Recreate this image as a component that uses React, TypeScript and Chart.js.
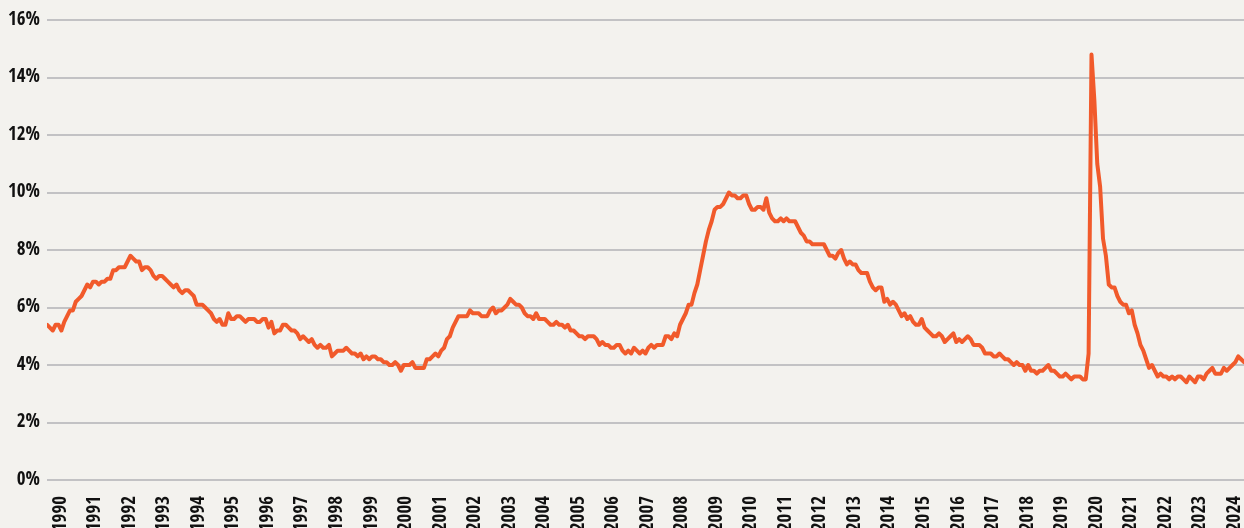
import React, { useEffect, useRef } from "react";
import { Chart, registerables } from "chart.js";

Chart.register(...registerables);

const START_YEAR = 1990;
const yearLabels: string[] = [
  "1990","1991","1992","1993","1994","1995","1996","1997","1998","1999",
  "2000","2001","2002","2003","2004","2005","2006","2007","2008","2009",
  "2010","2011","2012","2013","2014","2015","2016","2017","2018","2019",
  "2020","2021","2022","2023","2024",
];

// Monthly unemployment rate (%), Jan 1990 – Sep 2024
const rate1990s: number[] = [
  5.4,5.3,5.2,5.4,5.4,5.2,5.5,5.7,5.9,5.9,6.2,6.3,
  6.4,6.6,6.8,6.7,6.9,6.9,6.8,6.9,6.9,7.0,7.0,7.3,
  7.3,7.4,7.4,7.4,7.6,7.8,7.7,7.6,7.6,7.3,7.4,7.4,
  7.3,7.1,7.0,7.1,7.1,7.0,6.9,6.8,6.7,6.8,6.6,6.5,
  6.6,6.6,6.5,6.4,6.1,6.1,6.1,6.0,5.9,5.8,5.6,5.5,
  5.6,5.4,5.4,5.8,5.6,5.6,5.7,5.7,5.6,5.5,5.6,5.6,
  5.6,5.5,5.5,5.6,5.6,5.3,5.5,5.1,5.2,5.2,5.4,5.4,
  5.3,5.2,5.2,5.1,4.9,5.0,4.9,4.8,4.9,4.7,4.6,4.7,
  4.6,4.6,4.7,4.3,4.4,4.5,4.5,4.5,4.6,4.5,4.4,4.4,
  4.3,4.4,4.2,4.3,4.2,4.3,4.3,4.2,4.2,4.1,4.1,4.0,
];
const rate2000s: number[] = [
  4.0,4.1,4.0,3.8,4.0,4.0,4.0,4.1,3.9,3.9,3.9,3.9,
  4.2,4.2,4.3,4.4,4.3,4.5,4.6,4.9,5.0,5.3,5.5,5.7,
  5.7,5.7,5.7,5.9,5.8,5.8,5.8,5.7,5.7,5.7,5.9,6.0,
  5.8,5.9,5.9,6.0,6.1,6.3,6.2,6.1,6.1,6.0,5.8,5.7,
  5.7,5.6,5.8,5.6,5.6,5.6,5.5,5.4,5.4,5.5,5.4,5.4,
  5.3,5.4,5.2,5.2,5.1,5.0,5.0,4.9,5.0,5.0,5.0,4.9,
  4.7,4.8,4.7,4.7,4.6,4.6,4.7,4.7,4.5,4.4,4.5,4.4,
  4.6,4.5,4.4,4.5,4.4,4.6,4.7,4.6,4.7,4.7,4.7,5.0,
  5.0,4.9,5.1,5.0,5.4,5.6,5.8,6.1,6.1,6.5,6.8,7.3,
  7.8,8.3,8.7,9.0,9.4,9.5,9.5,9.6,9.8,10.0,9.9,9.9,
];
const rate2010s: number[] = [
  9.8,9.8,9.9,9.9,9.6,9.4,9.4,9.5,9.5,9.4,9.8,9.3,
  9.1,9.0,9.0,9.1,9.0,9.1,9.0,9.0,9.0,8.8,8.6,8.5,
  8.3,8.3,8.2,8.2,8.2,8.2,8.2,8.0,7.8,7.8,7.7,7.9,
  8.0,7.7,7.5,7.6,7.5,7.5,7.3,7.2,7.2,7.2,6.9,6.7,
  6.6,6.7,6.7,6.2,6.3,6.1,6.2,6.1,5.9,5.7,5.8,5.6,
  5.7,5.5,5.4,5.4,5.6,5.3,5.2,5.1,5.0,5.0,5.1,5.0,
  4.8,4.9,5.0,5.1,4.8,4.9,4.8,4.9,5.0,4.9,4.7,4.7,
  4.7,4.6,4.4,4.4,4.4,4.3,4.3,4.4,4.3,4.2,4.2,4.1,
  4.0,4.1,4.0,4.0,3.8,4.0,3.8,3.8,3.7,3.8,3.8,3.9,
  4.0,3.8,3.8,3.7,3.6,3.6,3.7,3.6,3.5,3.6,3.6,3.6,
];
const rate2020s: number[] = [
  3.5,3.5,4.4,14.8,13.2,11.0,10.2,8.4,7.8,6.8,6.7,6.7,
  6.4,6.2,6.1,6.1,5.8,5.9,5.4,5.1,4.7,4.5,4.2,3.9,
  4.0,3.8,3.6,3.7,3.6,3.6,3.5,3.6,3.5,3.6,3.6,3.5,
  3.4,3.6,3.5,3.4,3.6,3.6,3.5,3.7,3.8,3.9,3.7,3.7,
  3.7,3.9,3.8,3.9,4.0,4.1,4.3,4.2,4.1,
];
const yTicks: number[] = [0, 2, 4, 6, 8, 10, 12, 14, 16];

const rates: number[] = [...rate1990s, ...rate2000s, ...rate2010s, ...rate2020s];

const BG = "#f3f2ee";
const FONT = "'Open Sans Condensed', 'DejaVu Sans Condensed', sans-serif";
const LABEL_MONTH_OFFSET = 4.8;

export default function App() {
  const canvasRef = useRef<HTMLCanvasElement | null>(null);

  useEffect(() => {
    document.body.style.margin = "0";
    document.body.style.background = BG;
    const canvas = canvasRef.current;
    if (!canvas) return;
    const points = rates.map((v, i) => ({ x: i, y: v }));
    const chart = new Chart(canvas, {
      type: "line",
      data: {
        datasets: [
          {
            data: points,
            borderColor: "#f15a2b",
            borderWidth: 4,
            pointRadius: 0,
            tension: 0,
            fill: false,
            borderJoinStyle: "round",
            borderCapStyle: "round",
          },
        ],
      },
      options: {
        animation: false,
        responsive: false,
        maintainAspectRatio: false,
        layout: { padding: { top: 20, right: 0, left: 0, bottom: 0 } },
        plugins: { legend: { display: false }, tooltip: { enabled: false } },
        scales: {
          x: {
            type: "linear",
            min: 0,
            max: rates.length - 1,
            grid: { display: false, drawTicks: false },
            border: { display: false },
            afterBuildTicks: (scale: any) => {
              scale.ticks = yearLabels.map((_, i) => ({ value: i * 12 + LABEL_MONTH_OFFSET }));
            },
            afterFit: (scale: any) => {
              scale.height = 60;
              scale.paddingLeft = 0;
              scale.paddingRight = 0;
            },
            ticks: {
              autoSkip: false,
              maxRotation: 90,
              minRotation: 90,
              padding: 16,
              color: "#111111",
              font: { family: FONT, size: 19, weight: "bold" },
              callback: (value: any) => {
                const idx = Math.round((Number(value) - LABEL_MONTH_OFFSET) / 12);
                return yearLabels[idx] ?? String(START_YEAR + idx);
              },
            },
          },
          y: {
            type: "linear",
            min: 0,
            max: 16,
            grid: { color: "#c2c2c4", lineWidth: 2, drawTicks: false },
            border: { display: false },
            afterBuildTicks: (scale: any) => {
              scale.ticks = yTicks.map((v) => ({ value: v }));
            },
            afterFit: (scale: any) => {
              scale.width = 47;
              scale.paddingTop = 0;
              scale.paddingBottom = 0;
            },
            ticks: {
              padding: 7,
              color: "#111111",
              font: { family: FONT, size: 19, weight: "bold" },
              callback: (value: any) => `${value}%`,
            },
          },
        },
      },
    });
    return () => chart.destroy();
  }, []);

  return (
    <div style={{ width: 1244, height: 540, background: BG, overflow: "hidden" }}>
      <canvas ref={canvasRef} width={1244} height={540} style={{ display: "block" }} />
    </div>
  );
}
